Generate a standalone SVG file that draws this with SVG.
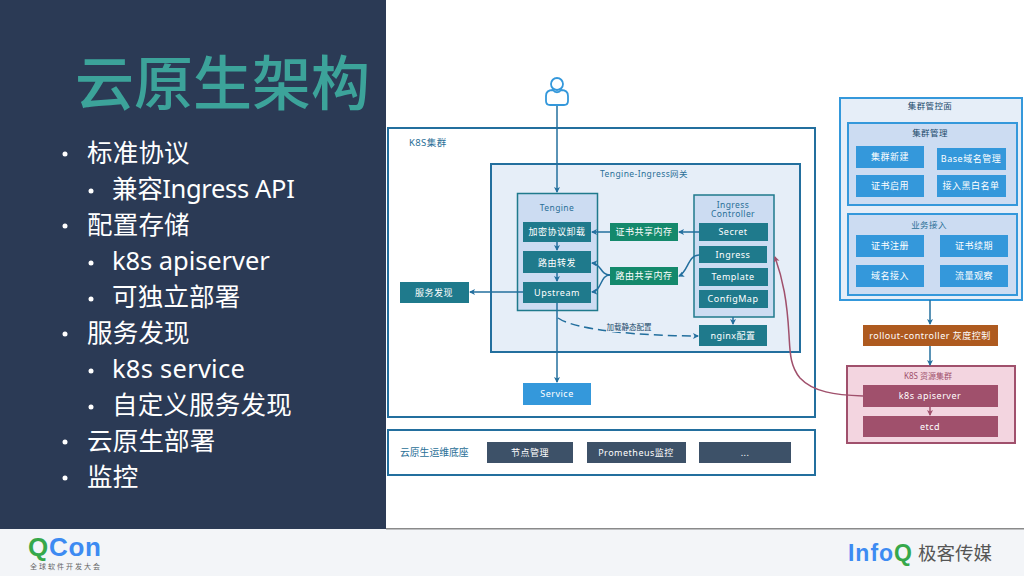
<svg xmlns="http://www.w3.org/2000/svg" width="1024" height="576" viewBox="0 0 1024 576">
<defs>
<marker id="a" markerWidth="7" markerHeight="7" refX="5" refY="3" orient="auto" markerUnits="userSpaceOnUse"><path d="M0 0L6 3L0 6L1.500 3Z" fill="#236f9e"/></marker>
<marker id="r" markerWidth="7" markerHeight="7" refX="5" refY="3" orient="auto" markerUnits="userSpaceOnUse"><path d="M0 0L6 3L0 6L1.500 3Z" fill="#a0506c"/></marker>
</defs>
<style>
text{font-family:"Noto Sans","Noto Sans CJK SC",sans-serif}
.bl{font-size:25.500px;fill:#fff;letter-spacing:.2px}
.t{font-size:9px;fill:#fff;text-anchor:middle;letter-spacing:.5px}
.l{font-size:8.500px;fill:#2a6f97;text-anchor:middle;letter-spacing:.4px}
.logo{font-family:"Liberation Sans",sans-serif;font-weight:700}
.teal{fill:#1f7a8c}.grn{fill:#14896c}.blu{fill:#3498db}.nav{fill:#3d5168}.mag{fill:#a0506c}
.c{fill:none;stroke:#236f9e;stroke-width:1.500}
.p{fill:none;stroke:#a0506c;stroke-width:1.500}
.dot{fill:#fff}
</style>
<rect width="1024" height="576" fill="#fff"/>
<rect width="386" height="529" fill="#2b3a55"/>
<rect y="529" width="1024" height="47" fill="#f3f5f8"/>
<rect x="386" y="528" width="638" height="1.500" fill="#8a8a8a"/>
<text x="75" y="104.500" font-size="59" font-weight="500" fill="#3ca39a">云原生架构</text>
<g id="bullets">
<circle class="dot" cx="65" cy="154" r="2.500"/><text class="bl" x="87" y="162">标准协议</text>
<circle class="dot" cx="91" cy="191" r="2.500"/><text class="bl" x="112" y="198" textLength="183" lengthAdjust="spacing">兼容Ingress API</text>
<circle class="dot" cx="65" cy="226" r="2.500"/><text class="bl" x="87" y="234">配置存储</text>
<circle class="dot" cx="91" cy="263" r="2.500"/><text class="bl" x="112" y="270" textLength="158" lengthAdjust="spacing">k8s apiserver</text>
<circle class="dot" cx="91" cy="299" r="2.500"/><text class="bl" x="112" y="306">可独立部署</text>
<circle class="dot" cx="65" cy="334" r="2.500"/><text class="bl" x="87" y="342">服务发现</text>
<circle class="dot" cx="91" cy="371" r="2.500"/><text class="bl" x="112" y="378" textLength="133" lengthAdjust="spacing">k8s service</text>
<circle class="dot" cx="91" cy="407" r="2.500"/><text class="bl" x="112" y="414">自定义服务发现</text>
<circle class="dot" cx="65" cy="442" r="2.500"/><text class="bl" x="87" y="450">云原生部署</text>
<circle class="dot" cx="65" cy="478" r="2.500"/><text class="bl" x="87" y="486">监控</text>
</g>
<g id="k8s-cluster"><rect x="388" y="128" width="427" height="289" fill="#fff" stroke="#236f9e" stroke-width="2"/><text x="409" y="146" font-size="9.500" fill="#2a6f97" letter-spacing=".4">K8S集群</text></g>
<g id="gateway"><rect x="491" y="164" width="309" height="188" fill="#e6eef8" stroke="#236f9e" stroke-width="2"/><text class="l" x="644" y="177">Tengine-Ingress网关</text></g>
<g id="tengine"><rect x="517.500" y="193.500" width="80" height="117" fill="#ccdcf2" stroke="#1f7a8c" stroke-width="1.500"/><text class="l" x="557" y="211">Tengine</text></g>
<g id="n1"><rect class="teal" x="523" y="222" width="68" height="20"/><text class="t" x="557" y="235">加密协议卸载</text></g>
<g id="n2"><rect class="teal" x="523" y="251" width="68" height="22"/><text class="t" x="557" y="266">路由转发</text></g>
<g id="n3"><rect class="teal" x="523" y="282" width="68" height="21"/><text class="t" x="557" y="296">Upstream</text></g>
<g id="mem1"><rect class="grn" x="610" y="223" width="68" height="18"/><text class="t" x="644" y="235">证书共享内存</text></g>
<g id="mem2"><rect class="grn" x="610" y="267" width="68" height="18"/><text class="t" x="644" y="279">路由共享内存</text></g>
<g id="ingress-controller"><rect x="694" y="195" width="80" height="122" fill="#ccdcf2" stroke="#1f7a8c" stroke-width="1.500"/><text class="l" x="733" y="208">Ingress</text><text class="l" x="733" y="217">Controller</text></g>
<g id="secret"><rect class="teal" x="699" y="223" width="69" height="18"/><text class="t" x="733" y="235">Secret</text></g>
<g id="ingress"><rect class="teal" x="699" y="246" width="68" height="17"/><text class="t" x="733" y="258">Ingress</text></g>
<g id="template"><rect class="teal" x="699" y="268" width="69" height="18"/><text class="t" x="733" y="280">Template</text></g>
<g id="configmap"><rect class="teal" x="699" y="290" width="69" height="18"/><text class="t" x="733" y="302">ConfigMap</text></g>
<g id="nginx"><rect class="teal" x="699" y="325" width="68" height="21"/><text class="t" x="733" y="339">nginx配置</text></g>
<g id="discovery"><rect class="teal" x="400" y="282" width="69" height="21"/><text class="t" x="434" y="296">服务发现</text></g>
<g id="service"><rect class="blu" x="523" y="383" width="68" height="22"/><text class="t" x="557" y="397">Service</text></g>
<g id="ops"><rect x="388" y="430" width="427" height="45" fill="#fff" stroke="#236f9e" stroke-width="2"/><text x="400" y="456" font-size="9.800" fill="#2a6f97">云原生运维底座</text></g>
<g id="o1"><rect class="nav" x="487" y="442" width="86" height="21"/><text class="t" x="530" y="456">节点管理</text></g>
<g id="o2"><rect class="nav" x="587" y="442" width="99" height="21"/><text class="t" x="636" y="456">Prometheus监控</text></g>
<g id="o3"><rect class="nav" x="699" y="442" width="92" height="21"/><text class="t" x="745" y="456">...</text></g>
<g id="control-plane"><rect x="840" y="98" width="182" height="202" fill="#e6eef8" stroke="#3498db" stroke-width="2"/><text class="l" x="930" y="109" style="fill:#1b4a6b">集群管控面</text></g>
<g id="cluster-mgmt"><rect x="848" y="123" width="169" height="82" fill="#ccdcf2" stroke="#3498db" stroke-width="2"/><text class="l" x="930" y="136" style="fill:#1b4a6b">集群管理</text></g>
<g id="b1"><rect class="blu" x="856" y="146" width="68" height="22"/><text class="t" x="890" y="160">集群新建</text></g>
<g id="b2"><rect class="blu" x="937" y="148" width="69" height="22"/><text class="t" x="971" y="162">Base域名管理</text></g>
<g id="b3"><rect class="blu" x="856" y="175" width="68" height="22"/><text class="t" x="890" y="189">证书启用</text></g>
<g id="b4"><rect class="blu" x="937" y="175" width="69" height="22"/><text class="t" x="971" y="189">接入黑白名单</text></g>
<g id="access"><rect x="848" y="214" width="169" height="81" fill="#ccdcf2" stroke="#3498db" stroke-width="2"/><text class="l" x="929" y="228">业务接入</text></g>
<g id="b5"><rect class="blu" x="856" y="235" width="68" height="22"/><text class="t" x="890" y="249">证书注册</text></g>
<g id="b6"><rect class="blu" x="940" y="235" width="68" height="22"/><text class="t" x="974" y="249">证书续期</text></g>
<g id="b7"><rect class="blu" x="856" y="265" width="68" height="22"/><text class="t" x="890" y="279">域名接入</text></g>
<g id="b8"><rect class="blu" x="940" y="265" width="68" height="22"/><text class="t" x="974" y="279">流量观察</text></g>
<g id="rollout"><rect x="863" y="325" width="135" height="21" fill="#ae5a1f"/><text class="t" x="930" y="339">rollout-controller 灰度控制</text></g>
<g id="res-cluster"><rect x="847" y="366" width="168" height="77" fill="#f3d5e0" stroke="#a0506c" stroke-width="2"/><text x="928" y="379" font-size="8" fill="#a0506c" text-anchor="middle">K8S 资源集群</text></g>
<g id="apiserver"><rect class="mag" x="863" y="385" width="135" height="22"/><text class="t" x="930" y="399">k8s apiserver</text></g>
<g id="etcd"><rect class="mag" x="863" y="416" width="135" height="21"/><text class="t" x="930" y="430">etcd</text></g>
<g id="connectors">
<path class="c" d="M557 106V192" marker-end="url(#a)"/>
<path class="c" d="M557 242V250" marker-end="url(#a)"/>
<path class="c" d="M557 273V281" marker-end="url(#a)"/>
<path class="c" d="M557 303V382" marker-end="url(#a)"/>
<path class="c" d="M610 232H592" marker-end="url(#a)"/>
<path class="c" d="M699 232H679" marker-end="url(#a)"/>
<path class="c" d="M610 275C600 275 602 264 592 263" marker-end="url(#a)"/>
<path class="c" d="M610 275C600 275 602 291 592 292" marker-end="url(#a)"/>
<path class="c" d="M699 255C688 255 688 272 679 276" marker-end="url(#a)"/>
<path class="c" d="M523 292H470" marker-end="url(#a)"/>
<path class="c" d="M733 317V324" marker-end="url(#a)"/>
<path class="c" stroke-dasharray="9 5" d="M558 318C575 330 640 336 698 336" marker-end="url(#a)"/>
<path class="c" d="M930 300V324" marker-end="url(#a)"/>
<path class="c" d="M930 346V365" marker-end="url(#a)"/>
<path class="p" d="M930 407V415" marker-end="url(#r)"/>
<path class="p" d="M863 396C835 395 813 392 800 378C790 366 790 352 789 335C787 300 783 280 775 257" marker-end="url(#r)"/>
</g>
<rect x="606" y="322" width="46" height="10" fill="#e6eef8"/>
<text x="629" y="330" font-size="7.500" fill="#1b4a6b" text-anchor="middle">加载静态配置</text>
<g id="user" fill="#fff" stroke="#3498db" stroke-width="1.800"><circle cx="557" cy="84" r="6"/><path d="M553 90C549 90 546 92 546 96V101C546 104 548 105 550 105H564C566 105 568 104 568 101V96C568 92 565 90 561 90C559 93 555 93 553 90Z"/></g>
<g id="logos">
<text class="logo" x="28" y="556" font-size="26" fill="#3d8bf2" textLength="73" lengthAdjust="spacing"><tspan fill="#36a84a">Q</tspan>Con</text>
<text x="30" y="569" font-size="7" fill="#666" letter-spacing="2">全球软件开发大会</text>
<text class="logo" x="848" y="561" font-size="23" fill="#3d8bf2" textLength="64" lengthAdjust="spacing">Info<tspan fill="#36a84a">Q</tspan></text>
<text x="918" y="560" font-size="18.500" fill="#555">极客传媒</text>
</g>
</svg>
